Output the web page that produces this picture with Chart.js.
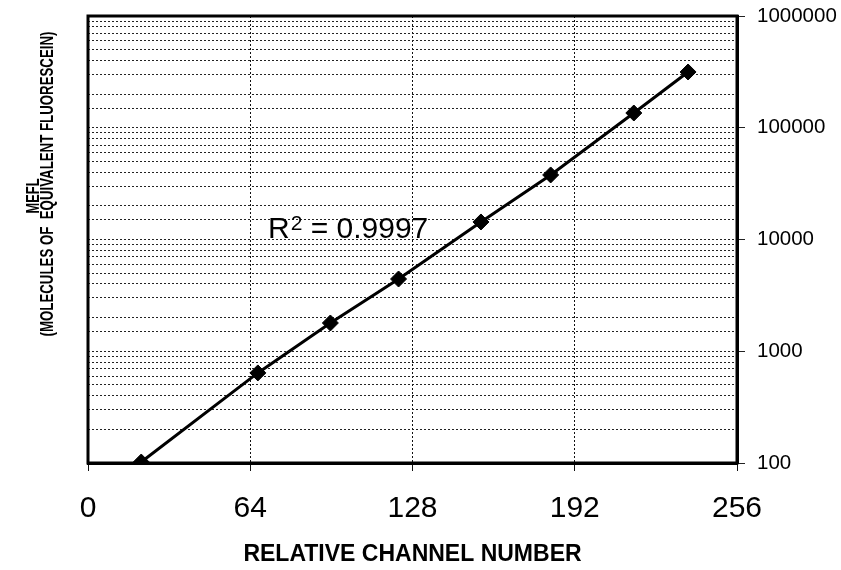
<!DOCTYPE html>
<html>
<head>
<meta charset="utf-8">
<script src="https://cdn.jsdelivr.net/npm/chart.js@4"></script>
<style>
html,body{margin:0;padding:0;background:#fff;}
#wrap{width:841px;height:570px;}
</style>
</head>
<body>
<div id="wrap"><canvas id="c" width="841" height="570"></canvas></div>
<script>
// ---- data ----
const channelNumber = [21, 67, 95.6, 122.5, 155, 182.5, 215.3, 236.7];
const meflValues = [102, 640, 1790, 4430, 14350, 37800, 135500, 315500];
const xTickValues = [0, 64, 128, 192, 256];
const yTickLabels = ['100', '1000', '10000', '100000', '1000000'];
const xTitle = 'RELATIVE CHANNEL NUMBER';
const yTitleLines = ['MEFL', '(MOLECULES OF  EQUIVALENT FLUORESCEIN)'];
const rSquaredLabel = ['R', '2', ' = 0.9997'];
const rSquaredAt = {x: 71, y: 10300};

const FONT = "'Liberation Sans', Arial, Helvetica, sans-serif";
const isPow10 = v => Math.abs(Math.log10(v) - Math.round(Math.log10(v))) < 1e-9;

const framePlugin = {
  id: 'frame',
  afterDraw(chart) {
    const {ctx, chartArea: a, scales} = chart;
    ctx.save();
    ctx.strokeStyle = '#000';
    ctx.lineWidth = 3;
    ctx.strokeRect(a.left, a.top, a.right - a.left, a.bottom - a.top);
    // R^2 annotation
    const px = scales.x.getPixelForValue(rSquaredAt.x);
    const py = scales.y.getPixelForValue(rSquaredAt.y);
    ctx.fillStyle = '#000';
    ctx.textBaseline = 'alphabetic';
    ctx.textAlign = 'left';
    ctx.font = '30px ' + FONT;
    ctx.fillText(rSquaredLabel[0], px, py);
    let w = ctx.measureText(rSquaredLabel[0]).width;
    ctx.font = '21px ' + FONT;
    ctx.fillText(rSquaredLabel[1], px + w + 1, py - 8);
    w += ctx.measureText(rSquaredLabel[1]).width + 1;
    ctx.font = '30px ' + FONT;
    ctx.fillText(rSquaredLabel[2], px + w, py);
    // y title (two rotated lines, condensed)
    const specs = [{cx: 34, cy: 196, len: 35}, {cx: 48, cy: 184, len: 305}];
    ctx.font = 'bold 18px ' + FONT;
    ctx.textAlign = 'center';
    ctx.textBaseline = 'middle';
    yTitleLines.forEach((t, i) => {
      const s = specs[i];
      const tw = ctx.measureText(t).width;
      ctx.save();
      ctx.translate(s.cx, s.cy);
      ctx.rotate(-Math.PI / 2);
      ctx.scale(s.len / tw, 1);
      ctx.fillText(t, 0, 0);
      ctx.restore();
    });
    ctx.restore();
  }
};

new Chart(document.getElementById('c'), {
  type: 'scatter',
  data: {
    datasets: [{
      data: channelNumber.map((x, i) => ({x, y: meflValues[i]})),
      showLine: true,
      borderColor: '#000',
      borderWidth: 3,
      backgroundColor: '#000',
      pointStyle: 'rectRot',
      pointRadius: 8,
      pointBorderWidth: 1,
      pointBorderColor: '#000',
      pointBackgroundColor: '#000',
      tension: 0
    }]
  },
  options: {
    responsive: false,
    animation: false,
    devicePixelRatio: 1,
    layout: {padding: {left: 88, top: 16, right: 0, bottom: 0}},
    plugins: {legend: {display: false}, tooltip: {enabled: false}},
    scales: {
      x: {
        type: 'linear',
        position: 'bottom',
        min: 0, max: 256,
        afterBuildTicks: s => { s.ticks = xTickValues.map(v => ({value: v})); },
        afterFit: s => { s.height = 107; s.paddingLeft = 0; s.paddingRight = 0; },
        ticks: {
          color: '#000',
          font: {family: FONT, size: 30},
          padding: 20,
          maxRotation: 0
        },
        grid: {
          color: '#111',
          lineWidth: 1,
          tickLength: 8,
          tickColor: '#111'
        },
        border: {display: true, color: '#000', width: 3, dash: [2, 2]},
        title: {
          display: true,
          text: xTitle,
          color: '#000',
          font: {family: FONT, size: 23, weight: 'bold'},
          padding: {top: 0, bottom: 2}
        }
      },
      y: {
        type: 'logarithmic',
        position: 'right',
        min: 100, max: 1000000,
        afterFit: s => { s.width = 104; s.paddingTop = 0; s.paddingBottom = 0; },
        ticks: {
          autoSkip: false,
          color: '#000',
          font: {family: FONT, size: 20.5},
          padding: 12,
          callback: v => isPow10(v) ? yTickLabels[Math.round(Math.log10(v)) - 2] : ''
        },
        grid: {
          color: '#222',
          lineWidth: 1,
          tickLength: 8,
          tickColor: c => (c.tick && isPow10(c.tick.value)) ? '#222' : 'rgba(0,0,0,0)'
        },
        border: {display: true, color: '#000', width: 3, dash: [2, 2]}
      }
    }
  },
  plugins: [framePlugin]
});
</script>
</body>
</html>
